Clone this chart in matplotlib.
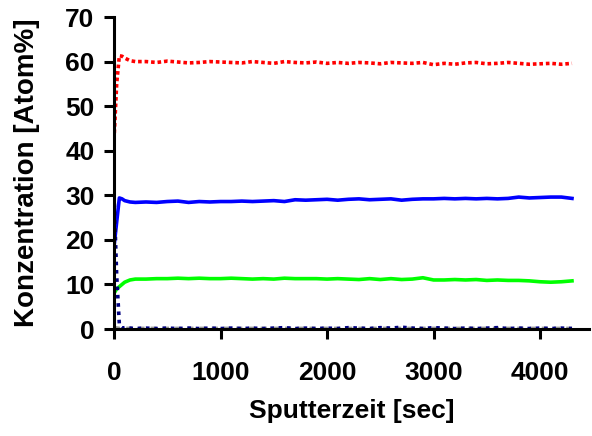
import matplotlib
matplotlib.use("Agg")
import matplotlib.pyplot as plt

plt.rcParams["font.family"] = ["Liberation Sans", "DejaVu Sans"]
plt.rcParams["font.weight"] = "bold"

# Sputterzeit [sec]
t = [0, 25, 50, 75, 100, 150, 200, 300, 400, 500, 600, 700, 800, 900,
     1000, 1100, 1200, 1300, 1400, 1500, 1600, 1700, 1800, 1900,
     2000, 2100, 2200, 2300, 2400, 2500, 2600, 2700, 2800, 2900,
     3000, 3100, 3200, 3300, 3400, 3500, 3600, 3700, 3800, 3900,
     4000, 4100, 4200, 4300]

# Konzentration [Atom%]
red = [42.5, 55.0, 61.3, 61.2, 60.8, 60.2, 60.0, 60.0, 59.8, 60.1, 59.9, 59.7,
       59.8, 60.0, 59.9, 59.8, 59.7, 60.0, 59.8, 59.6, 60.0, 59.8, 59.7, 59.9,
       59.6, 59.8, 59.6, 59.8, 59.7, 59.5, 59.8, 59.7, 59.6, 59.8, 59.3, 59.6,
       59.4, 59.7, 59.8, 59.5, 59.6, 59.8, 59.6, 59.4, 59.5, 59.6, 59.4, 59.6]
blue = [18.5, 24.0, 29.4, 29.2, 28.8, 28.5, 28.4, 28.5, 28.4, 28.6, 28.7, 28.4,
        28.6, 28.5, 28.6, 28.6, 28.7, 28.6, 28.7, 28.8, 28.6, 29.0, 28.9, 29.0,
        29.1, 28.9, 29.1, 29.2, 29.0, 29.1, 29.2, 28.9, 29.1, 29.2, 29.2, 29.3,
        29.2, 29.3, 29.2, 29.3, 29.2, 29.3, 29.6, 29.4, 29.5, 29.6, 29.6, 29.3]
green = [8.0, 9.0, 9.5, 10.0, 10.5, 11.0, 11.2, 11.2, 11.3, 11.3, 11.4, 11.3,
         11.4, 11.3, 11.3, 11.4, 11.3, 11.2, 11.3, 11.2, 11.4, 11.3, 11.3, 11.3,
         11.2, 11.3, 11.2, 11.1, 11.3, 11.1, 11.3, 11.1, 11.2, 11.5, 11.0, 11.0,
         11.1, 11.0, 11.1, 10.9, 11.0, 10.9, 10.9, 10.8, 10.6, 10.5, 10.6, 10.8]
navy = [30.0, 12.0, 1.0, 0.2, 0.3, 0.2, 0.1, 0.2, 0.1, 0.2, 0.1, 0.2,
        0.1, 0.2, 0.1, 0.2, 0.1, 0.2, 0.1, 0.2, 0.3, 0.1, 0.2, 0.1,
        0.2, 0.1, 0.3, 0.2, 0.1, 0.3, 0.2, 0.4, 0.2, 0.1, 0.3, 0.2,
        0.1, 0.2, 0.1, 0.2, 0.3, 0.1, 0.2, 0.1, 0.2, 0.1, 0.2, 0.1]
gray = [0.3, 0.3, 0.2, 0.2, 0.2, 0.2, 0.2, 0.2, 0.2, 0.2, 0.2, 0.2,
        0.2, 0.2, 0.2, 0.2, 0.2, 0.2, 0.2, 0.2, 0.2, 0.2, 0.2, 0.2,
        0.2, 0.2, 0.2, 0.2, 0.2, 0.2, 0.2, 0.2, 0.2, 0.2, 0.2, 0.2,
        0.2, 0.2, 0.2, 0.2, 0.2, 0.2, 0.2, 0.2, 0.2, 0.2, 0.2, 0.2]

fig = plt.figure(figsize=(5.92, 4.36), dpi=100)
ax = fig.add_axes([0.1926, 0.2454, 0.8024, 0.7156])

ax.plot(t, gray, color="#9a9a9a", lw=2.2, ls=(0, (2, 2)))
ax.plot(t, green, color="#00ff00", lw=2.6)
ax.plot(t, blue, color="#0000ff", lw=2.6)
ax.plot(t, red, color="#ff0000", lw=2.6, ls=(0, (1, 0.8)))
ax.plot(t, navy, color="#000080", lw=2.6, ls=(0, (1, 1.3)))

ax.set_xlim(0, 4460)
ax.set_ylim(0, 70)
ax.set_xticks([0, 1000, 2000, 3000, 4000])
ax.set_yticks(range(0, 71, 10))

for s in ("top", "right"):
    ax.spines[s].set_visible(False)
for s in ("left", "bottom"):
    ax.spines[s].set_linewidth(2.2)
ax.tick_params(direction="out", length=7, width=2.2, labelsize=19)
ax.tick_params(axis="x", pad=16)
ax.tick_params(axis="y", pad=7)

ax.set_xlabel("Sputterzeit [sec]", fontsize=19, fontweight="bold", labelpad=10)
ax.set_ylabel("Konzentration [Atom%]", fontsize=20, fontweight="bold", labelpad=18)

fig.savefig("out.png", dpi=100)
